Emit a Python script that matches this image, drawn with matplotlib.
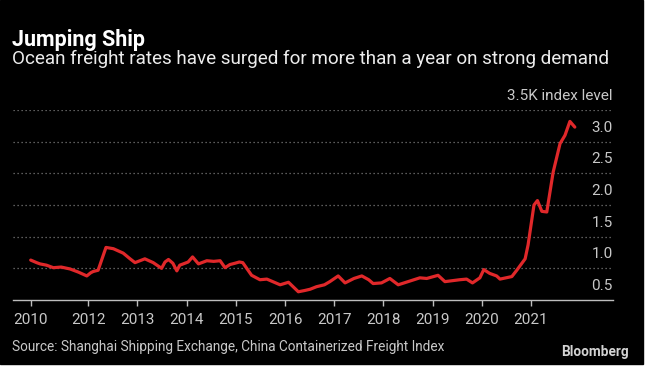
import matplotlib
matplotlib.use('Agg')
import matplotlib.pyplot as plt
from matplotlib.patches import Rectangle

# China Containerized Freight Index, thousands
years = [2010.83, 2010.95, 2011.02, 2011.15, 2011.29, 2011.45, 2011.63, 2011.80,
         2011.97, 2012.05, 2012.10, 2012.20, 2012.28, 2012.36, 2012.51, 2012.71,
         2012.85, 2012.95, 2013.05, 2013.15, 2013.32, 2013.49, 2013.56, 2013.63,
         2013.72, 2013.80, 2013.86, 2013.93, 2014.03, 2014.12, 2014.24, 2014.41,
         2014.55, 2014.68, 2014.78, 2014.88, 2014.98, 2015.07, 2015.14, 2015.32,
         2015.49, 2015.63, 2015.78, 2015.90, 2016.07, 2016.15, 2016.27, 2016.40,
         2016.51, 2016.64, 2016.80, 2016.91, 2017.08, 2017.22, 2017.40, 2017.56,
         2017.70, 2017.79, 2017.96, 2018.13, 2018.30, 2018.54, 2018.74, 2018.88,
         2019.11, 2019.25, 2019.55, 2019.69, 2019.81, 2019.96, 2020.04, 2020.16,
         2020.30, 2020.37, 2020.61, 2020.71, 2020.88, 2020.94, 2021.06, 2021.13,
         2021.22, 2021.32, 2021.45, 2021.59, 2021.69, 2021.79, 2021.89]
index_k = [1.13, 1.09, 1.07, 1.05, 1.01, 1.02, 0.99, 0.94,
           0.88, 0.93, 0.95, 0.97, 1.15, 1.33, 1.31, 1.24,
           1.15, 1.09, 1.12, 1.15, 1.09, 1.00, 1.10, 1.14,
           1.08, 0.96, 1.05, 1.07, 1.10, 1.18, 1.07, 1.12,
           1.11, 1.12, 1.01, 1.06, 1.08, 1.10, 1.09, 0.89,
           0.82, 0.83, 0.78, 0.74, 0.78, 0.72, 0.63, 0.65,
           0.67, 0.71, 0.74, 0.79, 0.88, 0.77, 0.84, 0.88,
           0.82, 0.76, 0.77, 0.84, 0.74, 0.80, 0.85, 0.84,
           0.89, 0.79, 0.82, 0.83, 0.77, 0.85, 0.98, 0.92,
           0.88, 0.83, 0.87, 0.97, 1.15, 1.37, 2.00, 2.07,
           1.90, 1.89, 2.52, 2.97, 3.10, 3.32, 3.23]

tick_pos = [2010.835, 2012, 2013, 2014, 2015, 2016, 2017, 2018, 2019, 2020, 2021]
tick_labels = ['2010', '2012', '2013', '2014', '2015', '2016', '2017', '2018',
               '2019', '2020', '2021']
y_levels = [0.5, 1.0, 1.5, 2.0, 2.5, 3.0, 3.5]
y_labels = ['0.5', '1.0', '1.5', '2.0', '2.5', '3.0', '3.5K index level']

plt.rcParams['font.family'] = ['Roboto', 'DejaVu Sans']

fig = plt.figure(figsize=(6.45, 3.72), dpi=100, facecolor='white')
# black panel with thin white margin at bottom/right like the screenshot
fig.patches.append(Rectangle((0, 8 / 372), 643 / 645, 1 - 8 / 372,
                             transform=fig.transFigure, color='black', zorder=-10))

ax = fig.add_axes([13 / 645, 1 - 300 / 372, (612.7 - 13) / 645, 190 / 372])
ax.set_facecolor('black')
ax.patch.set_alpha(0)
ax.plot(years, index_k, color='#e0282a', lw=2.3, solid_joinstyle='round',
        solid_capstyle='round', zorder=3)

ax.set_xlim(2010.47, 2022.66)
ax.set_ylim(0.5, 3.5)

for s in ['top', 'right', 'left']:
    ax.spines[s].set_visible(False)
ax.spines['bottom'].set_color('#bdbdbd')
ax.spines['bottom'].set_linewidth(1)

ax.set_xticks(tick_pos)
ax.set_xticklabels(tick_labels)
ax.tick_params(axis='x', colors='#bdbdbd', length=4, width=1, pad=5,
               labelsize=11, labelcolor='#c8c8c8')
ax.set_yticks([])

for v in y_levels[1:]:
    ax.axhline(v, color='#7a7a7a', lw=0.9, ls=(0, (1, 2.2)), zorder=1)

for v, lab in zip(y_levels, y_labels):
    ax.annotate(lab, xy=(1, v), xycoords=('axes fraction', 'data'),
                xytext=(0, 5), textcoords='offset points', ha='right',
                va='bottom', color='#c8c8c8', fontsize=11)

fig.text(12 / 645, 1 - 40 / 372, 'Jumping Ship', color='white',
         fontsize=15.5, fontweight='bold', va='center', ha='left')
fig.text(12 / 645, 1 - 59 / 372,
         'Ocean freight rates have surged for more than a year on strong demand',
         color='#ececec', fontsize=13.6, va='center', ha='left')
fig.text(12 / 645, 1 - 347 / 372,
         'Source: Shanghai Shipping Exchange, China Containerized Freight Index',
         color='#c8c8c8', fontsize=9.8, va='center', ha='left')
fig.text(629 / 645, 1 - 352 / 372, 'Bloomberg', color='#d2d2d2',
         fontsize=9.8, fontweight='bold', va='center', ha='right')

fig.savefig('out.png', dpi=100, facecolor=fig.get_facecolor())
